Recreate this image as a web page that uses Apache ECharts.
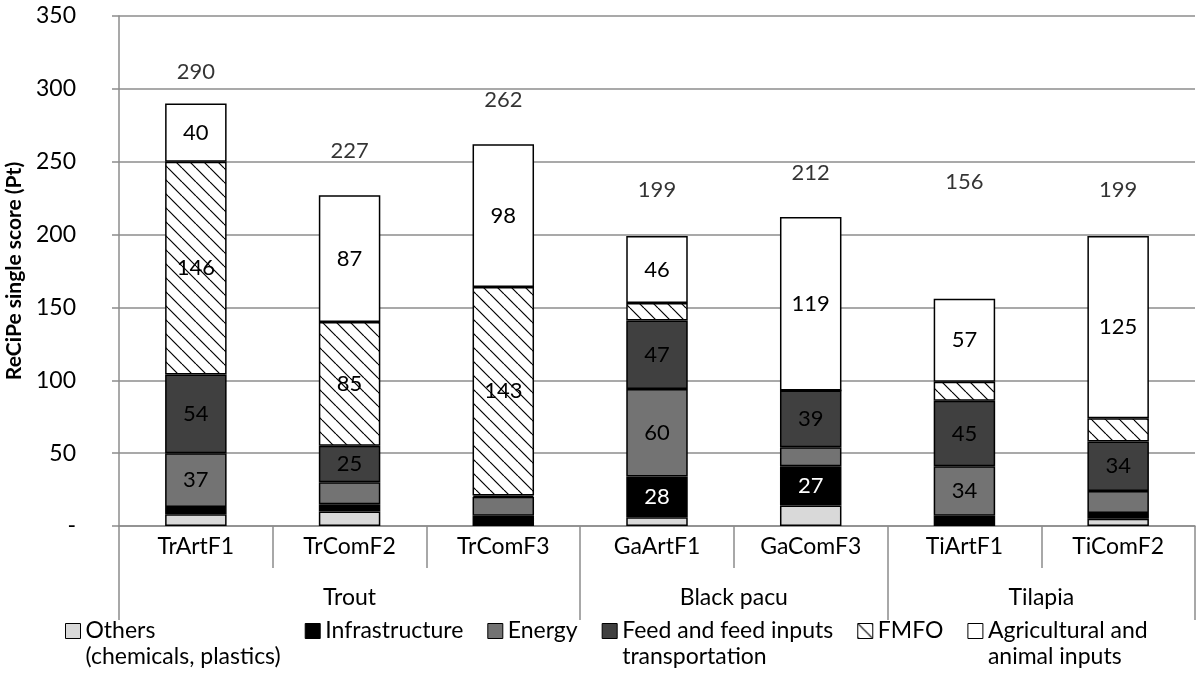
<!DOCTYPE html>
<html>
<head>
<meta charset="utf-8">
<script src="https://cdn.jsdelivr.net/npm/echarts@6/dist/echarts.min.js"></script>
<style>
  html, body { margin: 0; padding: 0; background: #fff; }
  #chart { width: 1197px; height: 700px; }
</style>
</head>
<body>
<div id="chart"></div>
<script>
// ---- data ----
const categories = ['TrArtF1', 'TrComF2', 'TrComF3', 'GaArtF1', 'GaComF3', 'TiArtF1', 'TiComF2'];
const groups = ['Trout', 'Black pacu', 'Tilapia'];
const groupSizes = [3, 2, 2];
const others = [8, 10, 2, 6, 14, 2, 5];
const infrastructure = [5, 5, 5, 28, 27, 5, 4];
const energy = [37, 15, 13, 60, 13, 34, 15];
const feed = [54, 25, 1, 47, 39, 45, 34];
const fmfo = [146, 85, 143, 12, 0, 13, 16];
const agri = [40, 87, 98, 46, 119, 57, 125];
const totals = [290, 227, 262, 199, 212, 156, 199];
const seriesNames = [
  'Others (chemicals, plastics)',
  'Infrastructure',
  'Energy',
  'Feed and feed inputs transportation',
  'FMFO',
  'Agricultural and animal inputs'
];
const legendLines = {
  'Others (chemicals, plastics)': ['Others', '(chemicals, plastics)'],
  'Infrastructure': ['Infrastructure'],
  'Energy': ['Energy'],
  'Feed and feed inputs transportation': ['Feed and feed inputs', 'transportation'],
  'FMFO': ['FMFO'],
  'Agricultural and animal inputs': ['Agricultural and', 'animal inputs']
};
const yTicks = { min: 0, max: 350, interval: 50 };

// ---- build ----
const FONT = 'Lato';
const FS = 23;
function hatch() {
  const s = 14;
  const c = document.createElement('canvas');
  c.width = s; c.height = s;
  const g = c.getContext('2d');
  g.fillStyle = '#fff';
  g.fillRect(0, 0, s, s);
  g.strokeStyle = '#000';
  g.lineWidth = 1.2;
  [-s, 0, s].forEach(k => {
    g.beginPath(); g.moveTo(k, 0); g.lineTo(k + s, s); g.stroke();
  });
  return { image: c, repeat: 'repeat' };
}
const fills = ['#d9d9d9', '#000000', '#737373', '#404040', hatch(), '#ffffff'];
const labelColors = ['#000', '#fff', '#000', '#000', '#000', '#000'];
const valueSets = [others, infrastructure, energy, feed, fmfo, agri];

const barSeries = valueSets.map((vals, i) => ({
  name: seriesNames[i],
  type: 'bar',
  stack: 'total',
  barWidth: '40%',
  data: vals,
  itemStyle: { color: fills[i], borderColor: '#000', borderWidth: 1.5 },
  label: {
    show: true,
    position: 'inside',
    fontFamily: FONT,
    fontSize: 22,
    color: labelColors[i],
    formatter: p => (p.value === 0 ? '-' : (p.value >= 20 ? String(p.value) : ''))
  },
  emphasis: { disabled: true }
}));

// hand-placed total labels in the reference: gap above each bar (px)
const totalLift = [21, 33, 33, 35, 33, 106, 35];
const totalSeries = {
  name: 'Total',
  type: 'scatter',
  symbolSize: 0,
  silent: true,
  z: 10,
  data: totals.map((v, i) => ({
    value: v,
    label: { distance: totalLift[i] }
  })),
  label: {
    show: true,
    position: 'top',
    fontFamily: FONT,
    fontSize: 22,
    color: '#000',
    formatter: p => String(p.value)
  }
};

// group boundaries and centres on a 0..n scale
const bounds = [0];
groupSizes.forEach(n => bounds.push(bounds[bounds.length - 1] + n));
const centres = groups.map((g, i) => (bounds[i] + bounds[i + 1]) / 2);

const axisGray = '#8c8c8c';
const option = {
  animation: false,
  textStyle: { fontFamily: FONT },
  grid: { left: 119, right: 2, top: 16, bottom: 174, containLabel: false, outerBoundsMode: 'none' },
  legend: {
    data: seriesNames,
    left: 60,
    top: 587,
    itemWidth: 15,
    itemHeight: 15,
    itemGap: 24,
    icon: 'rect',
    selectedMode: false,
    itemStyle: { borderColor: '#000', borderWidth: 1 },
    // first text line level with the icon: pad to three lines, name in the middle
    formatter: n => {
      const l = legendLines[n];
      return ' \n' + l[0] + '\n' + (l[1] || ' ');
    },
    textStyle: { fontFamily: FONT, fontSize: FS, color: '#000', lineHeight: 26 }
  },
  xAxis: [
    {
      type: 'category',
      data: categories,
      position: 'bottom',
      axisLine: { show: true, lineStyle: { color: axisGray, width: 1.5 } },
      axisTick: { show: true, interval: 0, length: 42, lineStyle: { color: axisGray, width: 1.5 } },
      axisLabel: { interval: 0, margin: 9, fontFamily: FONT, fontSize: FS, color: '#000' },
      splitLine: { show: false }
    },
    {
      type: 'value',
      min: 0,
      max: categories.length,
      position: 'bottom',
      axisLine: { show: false },
      axisTick: { show: true, customValues: bounds, length: 94, lineStyle: { color: axisGray, width: 1.5 } },
      axisLabel: {
        show: true,
        customValues: centres,
        margin: 60,
        fontFamily: FONT,
        fontSize: FS,
        color: '#000',
        formatter: v => {
          const i = centres.indexOf(v);
          return i >= 0 ? groups[i] : '';
        }
      },
      splitLine: { show: false }
    }
  ],
  yAxis: {
    type: 'value',
    min: yTicks.min,
    max: yTicks.max,
    interval: yTicks.interval,
    name: 'ReCiPe single score (Pt)',
    nameLocation: 'middle',
    nameRotate: 90,
    nameGap: 91,
    nameTextStyle: { fontFamily: FONT, fontSize: 21, fontWeight: 'bold', color: '#000' },
    axisLine: { show: true, lineStyle: { color: axisGray, width: 1.5 } },
    axisTick: { show: true, inside: false, length: 7, lineStyle: { color: axisGray, width: 1.5 } },
    axisLabel: {
      margin: 43,
      fontFamily: FONT,
      fontSize: FS,
      color: '#000',
      formatter: v => (v === 0 ? '-' : String(v))
    },
    splitLine: { show: true, lineStyle: { color: axisGray, width: 1.5 } }
  },
  series: barSeries.concat([totalSeries])
};

const chart = echarts.init(document.getElementById('chart'), null, { renderer: 'canvas' });
chart.setOption(option);
</script>
</body>
</html>
